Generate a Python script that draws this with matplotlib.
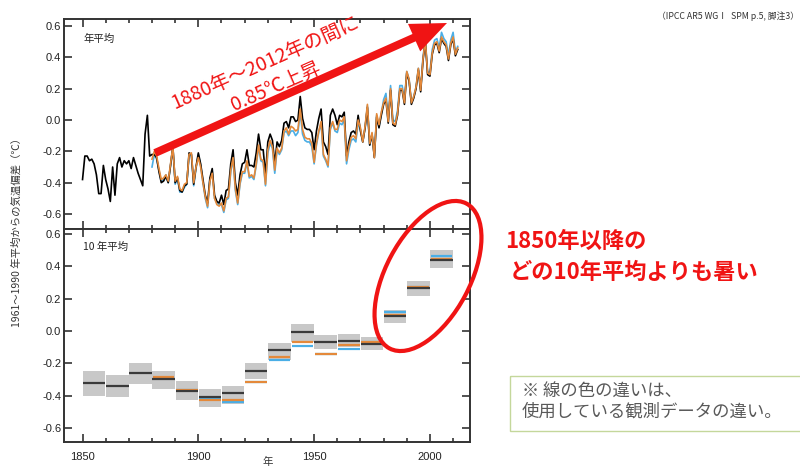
import matplotlib.pyplot as plt
import numpy as np
from matplotlib.patches import Ellipse, FancyArrow, Rectangle

plt.rcParams['font.family'] = ['Liberation Sans', 'Noto Sans CJK JP']
plt.rcParams['axes.unicode_minus'] = False

JP = ['Noto Sans CJK JP', 'DejaVu Sans']
RED = '#f01414'
ORANGE = '#e4893a'
BLUE = '#4aaee6'
AXC = '#333333'

# annual global mean temperature anomaly (vs 1961-1990), degC
years = np.arange(1850, 2013)
hadcrut = [
    -0.38, -0.23, -0.23, -0.26, -0.25, -0.28, -0.35, -0.47, -0.47, -0.29,
    -0.38, -0.44, -0.52, -0.30, -0.48, -0.28, -0.24, -0.30, -0.26, -0.28,
    -0.26, -0.31, -0.24, -0.29, -0.34, -0.38, -0.42, -0.09, 0.03, -0.23,
    -0.22, -0.22, -0.24, -0.33, -0.40, -0.39, -0.36, -0.40, -0.29, -0.17,
    -0.40, -0.37, -0.45, -0.46, -0.42, -0.41, -0.21, -0.22, -0.41, -0.30,
    -0.21, -0.28, -0.38, -0.48, -0.53, -0.37, -0.31, -0.48, -0.52, -0.53,
    -0.48, -0.54, -0.45, -0.44, -0.28, -0.19, -0.40, -0.48, -0.35, -0.28,
    -0.27, -0.19, -0.29, -0.29, -0.30, -0.21, -0.09, -0.19, -0.19, -0.35,
    -0.14, -0.09, -0.13, -0.28, -0.14, -0.17, -0.13, -0.02, -0.01, -0.05,
    0.02, 0.02, -0.01, 0.00, 0.15, 0.01, -0.05, -0.06, -0.06, -0.08,
    -0.19, -0.07, 0.01, 0.07, -0.14, -0.17, -0.22, 0.03, 0.07, 0.03,
    -0.03, 0.03, 0.02, 0.05, -0.23, -0.14, -0.08, -0.07, -0.09, 0.03,
    -0.07, -0.14, -0.05, 0.08, -0.16, -0.09, -0.24, 0.02, -0.05, 0.03,
    0.10, 0.13, -0.02, 0.19, -0.03, -0.04, 0.03, 0.19, 0.19, 0.10,
    0.30, 0.25, 0.10, 0.14, 0.20, 0.32, 0.18, 0.38, 0.50, 0.29,
    0.28, 0.42, 0.48, 0.49, 0.43, 0.52, 0.49, 0.47, 0.38, 0.48,
    0.52, 0.41, 0.45,
]

years_b = np.arange(1880, 2013)
mlost = [
    -0.25, -0.20, -0.23, -0.31, -0.38, -0.37, -0.35, -0.39, -0.28, -0.17,
    -0.39, -0.36, -0.44, -0.45, -0.41, -0.40, -0.22, -0.21, -0.40, -0.30,
    -0.24, -0.30, -0.40, -0.49, -0.55, -0.39, -0.34, -0.50, -0.54, -0.55,
    -0.53, -0.58, -0.50, -0.49, -0.32, -0.24, -0.44, -0.53, -0.40, -0.33,
    -0.33, -0.26, -0.36, -0.35, -0.37, -0.28, -0.16, -0.25, -0.26, -0.41,
    -0.19, -0.13, -0.17, -0.32, -0.18, -0.21, -0.18, -0.07, -0.05, -0.09,
    -0.04, -0.05, -0.07, -0.06, 0.07, -0.06, -0.11, -0.12, -0.12, -0.15,
    -0.27, -0.15, -0.07, -0.01, -0.22, -0.25, -0.29, -0.05, -0.01, -0.06,
    -0.06, 0.00, -0.01, 0.02, -0.26, -0.17, -0.11, -0.10, -0.12, 0.00,
    -0.05, -0.14, -0.04, 0.10, -0.15, -0.08, -0.24, 0.04, -0.03, 0.05,
    0.11, 0.14, -0.01, 0.20, -0.02, -0.03, 0.04, 0.20, 0.20, 0.11,
    0.31, 0.26, 0.11, 0.15, 0.21, 0.33, 0.19, 0.39, 0.51, 0.30,
    0.29, 0.43, 0.49, 0.50, 0.44, 0.53, 0.50, 0.48, 0.39, 0.49,
    0.53, 0.42, 0.46,
]
giss = [
    -0.30, -0.22, -0.25, -0.32, -0.39, -0.38, -0.35, -0.40, -0.29, -0.17,
    -0.41, -0.37, -0.46, -0.46, -0.43, -0.41, -0.23, -0.22, -0.42, -0.31,
    -0.22, -0.29, -0.40, -0.50, -0.56, -0.38, -0.33, -0.50, -0.53, -0.54,
    -0.54, -0.59, -0.51, -0.50, -0.33, -0.25, -0.45, -0.54, -0.41, -0.34,
    -0.34, -0.27, -0.37, -0.36, -0.38, -0.29, -0.17, -0.26, -0.27, -0.42,
    -0.21, -0.15, -0.18, -0.34, -0.19, -0.22, -0.19, -0.08, -0.07, -0.10,
    -0.07, -0.07, -0.10, -0.08, 0.05, -0.09, -0.13, -0.14, -0.14, -0.17,
    -0.28, -0.16, -0.08, -0.02, -0.23, -0.26, -0.30, -0.06, -0.02, -0.07,
    -0.08, -0.02, -0.03, 0.00, -0.28, -0.19, -0.13, -0.12, -0.14, -0.02,
    -0.06, -0.14, -0.05, 0.09, -0.16, -0.09, -0.23, 0.03, -0.04, 0.04,
    0.13, 0.17, 0.01, 0.22, 0.00, -0.01, 0.06, 0.22, 0.22, 0.13,
    0.31, 0.26, 0.11, 0.15, 0.21, 0.33, 0.20, 0.40, 0.52, 0.30,
    0.31, 0.45, 0.51, 0.52, 0.46, 0.56, 0.52, 0.50, 0.41, 0.51,
    0.56, 0.43, 0.47,
]

# decadal means
dec_start = [1850, 1860, 1870, 1880, 1890, 1900, 1910, 1920,
             1930, 1940, 1950, 1960, 1970, 1980, 1990, 2000]
dec_black = [-0.32, -0.34, -0.26, -0.295, -0.37, -0.41, -0.385, -0.247,
             -0.12, -0.008, -0.068, -0.06, -0.08, 0.089, 0.264, 0.44]
dec_lo = [-0.40, -0.41, -0.33, -0.36, -0.43, -0.47, -0.45, -0.30,
          -0.18, -0.07, -0.11, -0.10, -0.12, 0.047, 0.216, 0.39]
dec_hi = [-0.25, -0.27, -0.20, -0.25, -0.31, -0.36, -0.34, -0.20,
          -0.076, 0.04, -0.025, -0.02, -0.04, 0.13, 0.31, 0.50]
dec_start_b = [1880, 1890, 1900, 1910, 1920, 1930, 1940,
               1950, 1960, 1970, 1980, 1990, 2000]
dec_orange = [-0.287, -0.363, -0.43, -0.43, -0.313, -0.163, -0.07,
              -0.144, -0.09, -0.066, 0.10, 0.27, 0.447]
dec_blue = [-0.29, -0.365, -0.42, -0.44, -0.315, -0.177, -0.093,
            -0.145, -0.11, -0.07, 0.117, 0.27, 0.464]

yticks = [-0.6, -0.4, -0.2, 0.0, 0.2, 0.4, 0.6]
ylabels = ['-0.6', '-0.4', '-0.2', '0.0', '0.2', '0.4', '0.6']

fig = plt.figure(figsize=(8, 4.69), dpi=100)
ax1 = fig.add_axes([0.08, 0.5117, 0.5075, 0.4478])
ax2 = fig.add_axes([0.08, 0.0576, 0.5075, 0.4541])

# annual
ax1.plot(years_b, giss, color=BLUE, lw=1.2)
ax1.plot(years, hadcrut, color='black', lw=1.2)
ax1.plot(years_b, mlost, color=ORANGE, lw=1.2)

# decadal
ds = np.array(dec_start)
db = np.array(dec_start_b)
ax2.bar(ds + 0.15, np.array(dec_hi) - np.array(dec_lo), bottom=dec_lo,
        width=9.7, align='edge', color='#c8c8c8', lw=0)
ax2.hlines(dec_blue, db + 0.3, db + 9.7, color=BLUE, lw=1.6)
ax2.hlines(dec_orange, db + 0.3, db + 9.7, color=ORANGE, lw=1.6)
ax2.hlines(dec_black, ds + 0.15, ds + 9.85, color='#3a3a3a', lw=1.6)

for ax in (ax1, ax2):
    ax.set_xlim(1842, 2017.3)
    ax.set_xticks([1850, 1900, 1950, 2000])
    ax.set_xticks(np.arange(1850, 2020, 10), minor=True)
    ax.set_yticks(yticks)
    ax.set_yticklabels(ylabels)
    ax.tick_params(which='both', direction='in', top=True, right=True,
                   color=AXC, width=1.2, labelsize=8, labelcolor='#222222')
    ax.tick_params(which='major', length=6)
    ax.tick_params(which='minor', length=3)
    ax.tick_params(axis='y', pad=2)
    ax.tick_params(axis='x', pad=7)
    for s in ax.spines.values():
        s.set_linewidth(1.4)
        s.set_color(AXC)

ax1.set_ylim(-0.696, 0.645)
ax2.set_ylim(-0.687, 0.63)
ax1.tick_params(labelbottom=False)

ax1.text(0.047, 0.905, '年平均', transform=ax1.transAxes, fontsize=7.5,
         va='center', family=JP, color='#222222')
ax2.text(0.047, 0.915, '10 年平均', transform=ax2.transAxes, fontsize=7.5,
         va='center', family=JP, color='#222222')

# overlay in pixel coordinates for annotations
ov = fig.add_axes([0, 0, 1, 1], zorder=10)
ov.set_xlim(0, 800)
ov.set_ylim(469, 0)
ov.axis('off')

ov.text(17, 230, '1961～1990 年平均からの気温偏差（℃）', rotation=90,
        ha='center', va='center', fontsize=7.5, family=JP, color='#333333')
ov.text(268, 462, '年', ha='center', va='center', fontsize=7.5, family=JP,
        color='#333333')
ov.text(799, 16, '（IPCC AR5 WGⅠ  SPM p.5, 脚注3）', ha='right', va='center',
        fontsize=6.3, family=JP, color='#333333')

ov.add_patch(FancyArrow(155, 153, 292, -130, width=8, head_width=30,
                        head_length=36, length_includes_head=True,
                        color=RED, lw=0))
ov.text(265, 63, '1880年～2012年の間に', rotation=24, ha='center',
        va='center', rotation_mode='anchor', fontsize=14, family=JP,
        color=RED)
ov.text(276, 87, '0.85℃上昇', rotation=24, ha='center', va='center',
        rotation_mode='anchor', fontsize=14, family=JP, color=RED)

ov.add_patch(Ellipse((428, 276), 164, 84, angle=-62, fill=False,
                     edgecolor=RED, lw=3))

ov.text(505, 241, '1850年以降の', ha='left', va='center', fontsize=16,
        fontweight='bold', family=JP, color=RED)
ov.text(510, 272, 'どの10年平均よりも暑い', ha='left', va='center',
        fontsize=16, fontweight='bold', family=JP, color=RED)

ov.add_patch(Rectangle((510, 376), 295, 55, fill=False,
                       edgecolor='#c4d79b', lw=1))
ov.text(522, 391, '※ 線の色の違いは、', ha='left', va='center',
        fontsize=12.5, family=JP, color='#595959')
ov.text(522, 412, '使用している観測データの違い。', ha='left', va='center',
        fontsize=12.5, family=JP, color='#595959')

fig.savefig('out.png', dpi=100)
